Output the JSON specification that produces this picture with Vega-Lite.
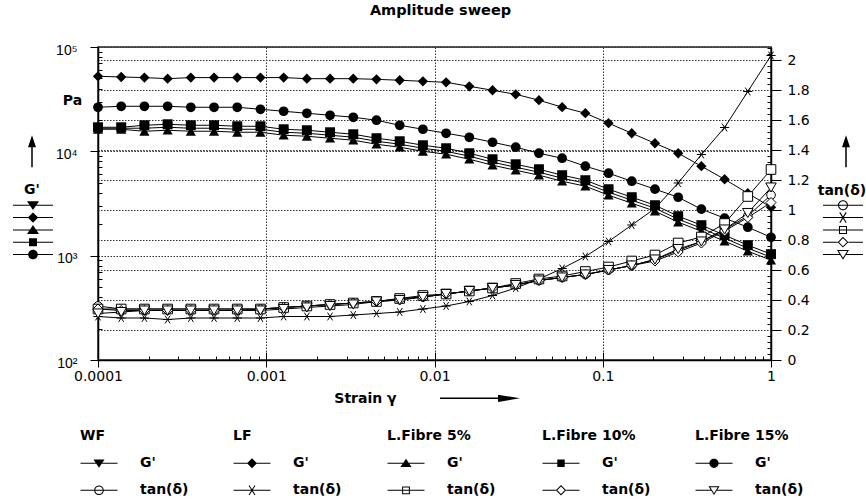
{
"$schema": "https://vega.github.io/schema/vega-lite/v6.json",
"width": 673, "height": 313,
"autosize": {"type": "none"},
"padding": {"left": 98, "top": 47, "right": 95, "bottom": 142},
"background": "white",
"title": {"text": "Amplitude sweep", "font": "DejaVu Sans", "fontSize": 14.5, "fontWeight": "bold", "color": "black", "anchor": "middle", "dx": 6, "offset": 25, "frame": "group"},
"config": {
 "view": {"stroke": "#222", "strokeWidth": 1.5},
 "axis": {"labelColor": "black", "tickColor": "black", "domainColor": "black", "domainWidth": 1.5, "tickWidth": 1, "labelFont": "DejaVu Sans", "labelFontSize": 14, "titleColor": "black", "labelOverlap": false, "labelFlush": false, "gridDash": [1.5, 1.5], "gridColor": "#333", "gridWidth": 1},
 "legend": {"padding": 0, "labelFont": "DejaVu Sans", "labelFontWeight": "bold", "labelFontSize": 14, "labelColor": "black", "titleFont": "DejaVu Sans", "titleFontWeight": "bold", "titleFontSize": 14, "titleColor": "black", "symbolStrokeWidth": 1, "symbolFillColor": "black", "symbolOpacity": 1, "labelLimit": 300, "titleLimit": 300, "direction": "vertical"}
},
"datasets": {"pts": [
{"s":"WF","x":0.0001,"g":16650,"t":0.36},{"s":"WF","x":0.00013738,"g":16650,"t":0.34},{"s":"WF","x":0.00018874,"g":16650,"t":0.34},{"s":"WF","x":0.00025929,"g":17010,"t":0.34},{"s":"WF","x":0.00035622,"g":16650,"t":0.34},{"s":"WF","x":0.00048939,"g":16650,"t":0.34},{"s":"WF","x":0.00067234,"g":16280,"t":0.34},{"s":"WF","x":0.00092367,"g":16280,"t":0.34},{"s":"WF","x":0.001269,"g":15240,"t":0.35},{"s":"WF","x":0.0017434,"g":14910,"t":0.36},{"s":"WF","x":0.0023951,"g":14270,"t":0.37},{"s":"WF","x":0.0032905,"g":13650,"t":0.38},{"s":"WF","x":0.0045205,"g":12500,"t":0.39},{"s":"WF","x":0.0062105,"g":11700,"t":0.41},{"s":"WF","x":0.0085321,"g":10710,"t":0.42},{"s":"WF","x":0.011721,"g":10020,"t":0.44},{"s":"WF","x":0.016103,"g":8980,"t":0.46},{"s":"WF","x":0.022122,"g":7865,"t":0.48},{"s":"WF","x":0.030392,"g":7040,"t":0.50},{"s":"WF","x":0.041753,"g":6310,"t":0.53},{"s":"WF","x":0.057362,"g":5525,"t":0.55},{"s":"WF","x":0.078805,"g":4950,"t":0.57},{"s":"WF","x":0.10826,"g":4058,"t":0.60},{"s":"WF","x":0.14874,"g":3401,"t":0.63},{"s":"WF","x":0.20434,"g":2851,"t":0.67},{"s":"WF","x":0.28072,"g":2237,"t":0.73},{"s":"WF","x":0.38566,"g":1834,"t":0.79},{"s":"WF","x":0.52983,"g":1471,"t":0.87},{"s":"WF","x":0.7279,"g":1180,"t":0.96},{"s":"WF","x":1,"g":967,"t":1.10},
{"s":"LF","x":0.0001,"g":52400,"t":0.29},{"s":"LF","x":0.00013738,"g":51600,"t":0.28},{"s":"LF","x":0.00018874,"g":50900,"t":0.28},{"s":"LF","x":0.00025929,"g":49700,"t":0.27},{"s":"LF","x":0.00035622,"g":50900,"t":0.28},{"s":"LF","x":0.00048939,"g":50900,"t":0.28},{"s":"LF","x":0.00067234,"g":50900,"t":0.28},{"s":"LF","x":0.00092367,"g":50900,"t":0.28},{"s":"LF","x":0.001269,"g":50900,"t":0.29},{"s":"LF","x":0.0017434,"g":49700,"t":0.29},{"s":"LF","x":0.0023951,"g":49700,"t":0.29},{"s":"LF","x":0.0032905,"g":49700,"t":0.30},{"s":"LF","x":0.0045205,"g":49000,"t":0.31},{"s":"LF","x":0.0062105,"g":48000,"t":0.32},{"s":"LF","x":0.0085321,"g":46900,"t":0.34},{"s":"LF","x":0.011721,"g":45900,"t":0.36},{"s":"LF","x":0.016103,"g":42000,"t":0.39},{"s":"LF","x":0.022122,"g":38500,"t":0.43},{"s":"LF","x":0.030392,"g":35200,"t":0.48},{"s":"LF","x":0.041753,"g":30900,"t":0.54},{"s":"LF","x":0.057362,"g":26500,"t":0.61},{"s":"LF","x":0.078805,"g":23200,"t":0.69},{"s":"LF","x":0.10826,"g":18600,"t":0.79},{"s":"LF","x":0.14874,"g":14900,"t":0.90},{"s":"LF","x":0.20434,"g":11950,"t":1.01},{"s":"LF","x":0.28072,"g":9590,"t":1.18},{"s":"LF","x":0.38566,"g":7200,"t":1.37},{"s":"LF","x":0.52983,"g":5400,"t":1.55},{"s":"LF","x":0.7279,"g":3970,"t":1.79},{"s":"LF","x":1,"g":2910,"t":2.03},
{"s":"L.Fibre 5%","x":0.0001,"g":16280,"t":0.34},{"s":"L.Fibre 5%","x":0.00013738,"g":16280,"t":0.34},{"s":"L.Fibre 5%","x":0.00018874,"g":15580,"t":0.34},{"s":"L.Fibre 5%","x":0.00025929,"g":15930,"t":0.34},{"s":"L.Fibre 5%","x":0.00035622,"g":15580,"t":0.34},{"s":"L.Fibre 5%","x":0.00048939,"g":15580,"t":0.34},{"s":"L.Fibre 5%","x":0.00067234,"g":15240,"t":0.34},{"s":"L.Fibre 5%","x":0.00092367,"g":15240,"t":0.34},{"s":"L.Fibre 5%","x":0.001269,"g":14270,"t":0.35},{"s":"L.Fibre 5%","x":0.0017434,"g":13950,"t":0.36},{"s":"L.Fibre 5%","x":0.0023951,"g":13360,"t":0.37},{"s":"L.Fibre 5%","x":0.0032905,"g":12780,"t":0.38},{"s":"L.Fibre 5%","x":0.0045205,"g":11700,"t":0.39},{"s":"L.Fibre 5%","x":0.0062105,"g":10950,"t":0.41},{"s":"L.Fibre 5%","x":0.0085321,"g":10020,"t":0.43},{"s":"L.Fibre 5%","x":0.011721,"g":9380,"t":0.44},{"s":"L.Fibre 5%","x":0.016103,"g":8400,"t":0.46},{"s":"L.Fibre 5%","x":0.022122,"g":7360,"t":0.48},{"s":"L.Fibre 5%","x":0.030392,"g":6590,"t":0.51},{"s":"L.Fibre 5%","x":0.041753,"g":5905,"t":0.54},{"s":"L.Fibre 5%","x":0.057362,"g":5170,"t":0.56},{"s":"L.Fibre 5%","x":0.078805,"g":4632,"t":0.59},{"s":"L.Fibre 5%","x":0.10826,"g":3798,"t":0.62},{"s":"L.Fibre 5%","x":0.14874,"g":3183,"t":0.66},{"s":"L.Fibre 5%","x":0.20434,"g":2669,"t":0.70},{"s":"L.Fibre 5%","x":0.28072,"g":2094,"t":0.78},{"s":"L.Fibre 5%","x":0.38566,"g":1716,"t":0.82},{"s":"L.Fibre 5%","x":0.52983,"g":1377,"t":0.91},{"s":"L.Fibre 5%","x":0.7279,"g":1104,"t":1.09},{"s":"L.Fibre 5%","x":1,"g":906,"t":1.27},
{"s":"L.Fibre 10%","x":0.0001,"g":17010,"t":0.34},{"s":"L.Fibre 10%","x":0.00013738,"g":17010,"t":0.33},{"s":"L.Fibre 10%","x":0.00018874,"g":17780,"t":0.33},{"s":"L.Fibre 10%","x":0.00025929,"g":18180,"t":0.33},{"s":"L.Fibre 10%","x":0.00035622,"g":17780,"t":0.33},{"s":"L.Fibre 10%","x":0.00048939,"g":17780,"t":0.33},{"s":"L.Fibre 10%","x":0.00067234,"g":17390,"t":0.33},{"s":"L.Fibre 10%","x":0.00092367,"g":17390,"t":0.34},{"s":"L.Fibre 10%","x":0.001269,"g":16280,"t":0.35},{"s":"L.Fibre 10%","x":0.0017434,"g":15930,"t":0.36},{"s":"L.Fibre 10%","x":0.0023951,"g":15240,"t":0.37},{"s":"L.Fibre 10%","x":0.0032905,"g":14580,"t":0.38},{"s":"L.Fibre 10%","x":0.0045205,"g":13360,"t":0.39},{"s":"L.Fibre 10%","x":0.0062105,"g":12500,"t":0.40},{"s":"L.Fibre 10%","x":0.0085321,"g":11440,"t":0.42},{"s":"L.Fibre 10%","x":0.011721,"g":10710,"t":0.44},{"s":"L.Fibre 10%","x":0.016103,"g":9590,"t":0.46},{"s":"L.Fibre 10%","x":0.022122,"g":8400,"t":0.48},{"s":"L.Fibre 10%","x":0.030392,"g":7520,"t":0.50},{"s":"L.Fibre 10%","x":0.041753,"g":6740,"t":0.53},{"s":"L.Fibre 10%","x":0.057362,"g":5905,"t":0.55},{"s":"L.Fibre 10%","x":0.078805,"g":5288,"t":0.57},{"s":"L.Fibre 10%","x":0.10826,"g":4335,"t":0.60},{"s":"L.Fibre 10%","x":0.14874,"g":3634,"t":0.63},{"s":"L.Fibre 10%","x":0.20434,"g":3046,"t":0.66},{"s":"L.Fibre 10%","x":0.28072,"g":2390,"t":0.72},{"s":"L.Fibre 10%","x":0.38566,"g":1960,"t":0.78},{"s":"L.Fibre 10%","x":0.52983,"g":1572,"t":0.86},{"s":"L.Fibre 10%","x":0.7279,"g":1261,"t":0.95},{"s":"L.Fibre 10%","x":1,"g":1034,"t":1.05},
{"s":"L.Fibre 15%","x":0.0001,"g":26450,"t":0.31},{"s":"L.Fibre 15%","x":0.00013738,"g":27040,"t":0.32},{"s":"L.Fibre 15%","x":0.00018874,"g":27040,"t":0.33},{"s":"L.Fibre 15%","x":0.00025929,"g":27040,"t":0.33},{"s":"L.Fibre 15%","x":0.00035622,"g":26450,"t":0.33},{"s":"L.Fibre 15%","x":0.00048939,"g":26450,"t":0.33},{"s":"L.Fibre 15%","x":0.00067234,"g":26450,"t":0.33},{"s":"L.Fibre 15%","x":0.00092367,"g":25310,"t":0.33},{"s":"L.Fibre 15%","x":0.001269,"g":24220,"t":0.34},{"s":"L.Fibre 15%","x":0.0017434,"g":23170,"t":0.35},{"s":"L.Fibre 15%","x":0.0023951,"g":22170,"t":0.36},{"s":"L.Fibre 15%","x":0.0032905,"g":21210,"t":0.37},{"s":"L.Fibre 15%","x":0.0045205,"g":19860,"t":0.39},{"s":"L.Fibre 15%","x":0.0062105,"g":17780,"t":0.40},{"s":"L.Fibre 15%","x":0.0085321,"g":16280,"t":0.42},{"s":"L.Fibre 15%","x":0.011721,"g":14900,"t":0.44},{"s":"L.Fibre 15%","x":0.016103,"g":13640,"t":0.46},{"s":"L.Fibre 15%","x":0.022122,"g":12220,"t":0.48},{"s":"L.Fibre 15%","x":0.030392,"g":10950,"t":0.50},{"s":"L.Fibre 15%","x":0.041753,"g":9590,"t":0.53},{"s":"L.Fibre 15%","x":0.057362,"g":8590,"t":0.55},{"s":"L.Fibre 15%","x":0.078805,"g":7200,"t":0.57},{"s":"L.Fibre 15%","x":0.10826,"g":6170,"t":0.60},{"s":"L.Fibre 15%","x":0.14874,"g":5170,"t":0.63},{"s":"L.Fibre 15%","x":0.20434,"g":4340,"t":0.67},{"s":"L.Fibre 15%","x":0.28072,"g":3630,"t":0.74},{"s":"L.Fibre 15%","x":0.38566,"g":2790,"t":0.79},{"s":"L.Fibre 15%","x":0.52983,"g":2290,"t":0.87},{"s":"L.Fibre 15%","x":0.7279,"g":1875,"t":0.98},{"s":"L.Fibre 15%","x":1,"g":1500,"t":1.15}
]},
"layer": [
 {"data": {"name": "pts"},
  "resolve": {"axis": {"x": "independent", "y": "independent"}},
  "layer": [
   {"mark": {"type": "line", "color": "black", "strokeWidth": 1},
    "encoding": {
     "x": {"field": "x", "type": "quantitative", "scale": {"type": "log", "domain": [0.0001, 1], "nice": false},
       "axis": {"orient": "bottom", "values": [0.0001, 0.001, 0.01, 0.1, 1], "format": "~g", "labelPadding": 2, "tickSize": 7, "grid": true, "title": "Strain γ", "titleX": 267, "titleY": 38, "titleAlign": "center", "titleBaseline": "middle", "titleFont": "DejaVu Sans", "titleFontWeight": "bold", "titleFontSize": 14}},
     "y": {"field": "g", "type": "quantitative", "scale": {"type": "log", "domain": [100, 100000], "nice": false},
       "axis": {"orient": "left", "values": [100, 1000, 10000, 100000], "labelExpr": "datum.value == 100 ? '10²' : datum.value == 1000 ? '10³' : datum.value == 10000 ? '10⁴' : '10⁵'", "labelFont": "Liberation Sans", "labelFontSize": 14, "labelPadding": 13, "labelOffset": 3, "tickSize": 8, "grid": true, "title": "Pa", "titleAngle": 0, "titleX": -26, "titleY": 53, "titleAlign": "center", "titleBaseline": "middle", "titleFont": "DejaVu Sans", "titleFontWeight": "bold", "titleFontSize": 14}},
     "detail": {"field": "s", "type": "nominal"}
    }},
   {"mark": {"type": "point", "filled": true, "color": "black", "opacity": 1},
    "encoding": {
     "x": {"field": "x", "type": "quantitative",
       "axis": {"orient": "bottom", "values": [0.0002,0.0003,0.0004,0.0005,0.0006,0.0007,0.0008,0.0009,0.002,0.003,0.004,0.005,0.006,0.007,0.008,0.009,0.02,0.03,0.04,0.05,0.06,0.07,0.08,0.09,0.2,0.3,0.4,0.5,0.6,0.7,0.8,0.9], "labels": false, "grid": false, "domain": false, "tickSize": -4, "title": null}},
     "y": {"field": "g", "type": "quantitative",
       "axis": {"orient": "left", "values": [200,300,400,500,600,700,800,900,2000,3000,4000,5000,6000,7000,8000,9000,20000,30000,40000,50000,60000,70000,80000,90000], "labels": false, "grid": false, "domain": false, "tickSize": -4, "title": null}},
     "shape": {"field": "s", "type": "nominal", "scale": {"domain": ["WF", "LF", "L.Fibre 5%", "L.Fibre 10%", "L.Fibre 15%"], "range": ["triangle-down", "diamond", "triangle-up", "square", "circle"]}, "legend": null},
     "size": {"field": "s", "type": "ordinal", "scale": {"domain": ["WF", "LF", "L.Fibre 5%", "L.Fibre 10%", "L.Fibre 15%"], "range": [110, 95, 110, 70, 80]}, "legend": null}
    }}
  ]},
 {"data": {"name": "pts"},
  "resolve": {"axis": {"x": "independent", "y": "independent"}},
  "layer": [
   {"mark": {"type": "line", "color": "black", "strokeWidth": 1},
    "encoding": {
     "x": {"field": "x", "type": "quantitative",
       "axis": {"orient": "bottom", "values": [0.0001, 0.001, 0.01, 0.1, 1], "labels": false, "grid": false, "domain": false, "tickSize": -8, "title": null}},
     "y": {"field": "t", "type": "quantitative", "scale": {"domain": [0, 2.0867], "nice": false, "zero": false},
       "axis": {"orient": "right", "values": [0, 0.2, 0.4, 0.6, 0.8, 1, 1.2, 1.4, 1.6, 1.8, 2], "format": "~g", "tickSize": 10, "labelPadding": 6, "grid": true, "title": null}},
     "detail": {"field": "s", "type": "nominal"}
    }},
   {"mark": {"type": "point", "filled": true, "fill": "white", "stroke": "black", "strokeWidth": 1, "opacity": 1},
    "encoding": {
     "x": {"field": "x", "type": "quantitative", "axis": null},
     "y": {"field": "t", "type": "quantitative",
       "axis": {"orient": "right", "values": [0.04,0.08,0.12,0.16,0.24,0.28,0.32,0.36,0.44,0.48,0.52,0.56,0.64,0.68,0.72,0.76,0.84,0.88,0.92,0.96,1.04,1.08,1.12,1.16,1.24,1.28,1.32,1.36,1.44,1.48,1.52,1.56,1.64,1.68,1.72,1.76,1.84,1.88,1.92,1.96,2.04,2.08], "labels": false, "grid": false, "domain": false, "tickSize": -4, "title": null}},
     "shape": {"field": "s", "type": "nominal", "scale": {"domain": ["WF", "LF", "L.Fibre 5%", "L.Fibre 10%", "L.Fibre 15%"], "range": ["circle", "M-1,0H1M-0.55,-0.85L0.55,0.85M-0.55,0.85L0.55,-0.85", "square", "diamond", "triangle-down"]}, "legend": null},
     "size": {"field": "s", "type": "ordinal", "scale": {"domain": ["WF", "LF", "L.Fibre 5%", "L.Fibre 10%", "L.Fibre 15%"], "range": [75, 110, 70, 95, 110]}, "legend": null}
    }}
  ]},
 {"data": {"values": [{"k": "a"}]}, "transform": [{"filter": "false"}],
  "mark": {"type": "point", "filled": true, "color": "black", "opacity": 1},
  "encoding": {"shape": {"field": "k", "type": "nominal", "scale": {"domain": ["a"], "range": ["M-1,0M1,0M-0.047,-0.3H0.047V1H-0.047ZM-0.25,-0.25L0,-1L0.25,-0.25Z"]},
   "legend": {"title": "G'", "titleOrient": "bottom", "titleAnchor": "middle", "titlePadding": 16, "orient": "none", "legendX": -82, "legendY": 88.3, "symbolSize": 1024, "symbolStrokeWidth": 0, "labelExpr": "''", "labelFontSize": 1, "labelOffset": 0}}}},
 {"data": {"values": [{"k": "a"}]}, "transform": [{"filter": "false"}],
  "mark": {"type": "point", "filled": true, "color": "black", "opacity": 1},
  "encoding": {"shape": {"field": "k", "type": "nominal", "scale": {"domain": ["a"], "range": ["M-1,0M1,0M-0.047,-0.3H0.047V1H-0.047ZM-0.25,-0.25L0,-1L0.25,-0.25Z"]},
   "legend": {"title": "tan(δ)", "titleOrient": "bottom", "titleAnchor": "middle", "titlePadding": 17, "orient": "none", "legendX": 720, "legendY": 88.3, "symbolSize": 1024, "symbolOffset": 9, "symbolStrokeWidth": 0, "labelExpr": "''", "labelFontSize": 1, "labelOffset": 0}}}},
 {"data": {"values": [{"k": "a"}]}, "transform": [{"filter": "false"}],
  "mark": {"type": "point", "filled": true, "color": "black", "opacity": 1},
  "encoding": {"shape": {"field": "k", "type": "nominal", "scale": {"domain": ["a"], "range": ["M0,-1M0,1M-1,-0.019H0.45V0.019H-1ZM0.45,-0.09L1,0L0.45,0.09Z"]},
   "legend": {"title": null, "orient": "none", "legendX": 341.5, "legendY": 310.8, "symbolSize": 6400, "labelExpr": "''", "labelFontSize": 1, "labelOffset": 0}}}},
 {"data": {"values": [{"k": "WF"}]}, "transform": [{"filter": "false"}],
  "mark": {"type": "point", "filled": true, "color": "black", "opacity": 1},
  "encoding": {"shape": {"field": "k", "type": "nominal", "scale": {"domain": ["WF", "LF", "L.Fibre 5%", "L.Fibre 10%", "L.Fibre 15%"], "range": [
    "M0,-1.5M0,1.5M-5,-0.125H5V0.125H-5ZM-1.5,-1L1.5,-1L0,1.2Z",
    "M0,-1.5M0,1.5M-5,-0.125H5V0.125H-5ZM-1.3,0L0,-1.3L1.3,0L0,1.3Z",
    "M0,-1.5M0,1.5M-5,-0.125H5V0.125H-5ZM-1.5,1L0,-1.2L1.5,1Z",
    "M0,-1.5M0,1.5M-5,-0.125H5V0.125H-5ZM-1,-1H1V1H-1Z",
    "M0,-1.5M0,1.5M-5,-0.125H5V0.125H-5ZM-1.2,0A1.2,1.2,0,1,1,1.2,0A1.2,1.2,0,1,1,-1.2,0Z"]},
   "legend": {"title": null, "orient": "none", "legendX": -69, "legendY": 154.3, "symbolSize": 64, "symbolStrokeWidth": 0, "labelExpr": "''", "labelFontSize": 1, "labelOffset": 0, "rowPadding": 0.3}}}},
 {"data": {"values": [{"k": "WF"}]}, "transform": [{"filter": "false"}],
  "mark": {"type": "point", "filled": true, "color": "black", "opacity": 1},
  "encoding": {"shape": {"field": "k", "type": "nominal", "scale": {"domain": ["WF", "LF", "L.Fibre 5%", "L.Fibre 10%", "L.Fibre 15%"], "range": [
    "M0,-1.5M0,1.5M-5,-0.125H5V0.125H-5ZM-1.25,0A1.25,1.25,0,1,1,1.25,0A1.25,1.25,0,1,1,-1.25,0ZM-1,0A1,1,0,1,0,1,0A1,1,0,1,0,-1,0Z",
    "M0,-1.5M0,1.5M-5,-0.125H5V0.125H-5ZM-0.915,-1.23L-0.685,-1.37L0.915,1.23L0.685,1.37ZM-0.685,1.37L-0.915,1.23L0.685,-1.37L0.915,-1.23Z",
    "M0,-1.5M0,1.5M-5,-0.125H5V0.125H-5ZM-1,-1H1V1H-1ZM-0.75,-0.75V0.75H0.75V-0.75Z",
    "M0,-1.5M0,1.5M-5,-0.125H-1.35V0.125H-5ZM1.35,-0.125H5V0.125H1.35ZM-1.35,0L0,-1.35L1.35,0L0,1.35ZM-1,0L0,1L1,0L0,-1Z",
    "M0,-1.5M0,1.5M-5,-0.125H-0.8V0.125H-5ZM0.8,-0.125H5V0.125H0.8ZM-1.5,-1.1L1.5,-1.1L0,1.3ZM-1.048,-0.85L0,0.828L1.048,-0.85Z"]},
   "legend": {"title": null, "orient": "none", "legendX": 741, "legendY": 154.3, "symbolSize": 64, "symbolStrokeWidth": 0, "labelExpr": "''", "labelFontSize": 1, "labelOffset": 0, "rowPadding": 0.3}}}},
 {"data": {"values": [{"k": "G'"}]}, "transform": [{"filter": "false"}],
  "mark": {"type": "point", "filled": true, "color": "black", "opacity": 1},
  "encoding": {"shape": {"field": "k", "type": "nominal", "scale": {"domain": ["G'", "tan(δ)"], "range": [
    "M0,-0.3M0,0.3M-1,-0.027H1V0.027H-1ZM-0.3,-0.2L0.3,-0.2L0,0.24Z",
    "M0,-0.3M0,0.3M-1,-0.027H1V0.027H-1ZM-0.26,0A0.26,0.26,0,1,1,0.26,0A0.26,0.26,0,1,1,-0.26,0ZM-0.205,0A0.205,0.205,0,1,0,0.205,0A0.205,0.205,0,1,0,-0.205,0Z"]},
   "legend": {"title": "WF", "orient": "none", "legendX": -18, "legendY": 382.3, "symbolSize": 1369, "labelOffset": 22, "rowPadding": 0, "titlePadding": 1, "titleAnchor": "start"}}}},
 {"data": {"values": [{"k": "G'"}]}, "transform": [{"filter": "false"}],
  "mark": {"type": "point", "filled": true, "color": "black", "opacity": 1},
  "encoding": {"shape": {"field": "k", "type": "nominal", "scale": {"domain": ["G'", "tan(δ)"], "range": [
    "M0,-0.3M0,0.3M-1,-0.027H1V0.027H-1ZM-0.27,0L0,-0.27L0.27,0L0,0.27Z",
    "M0,-0.3M0,0.3M-1,-0.027H1V0.027H-1ZM-0.183,-0.246L-0.137,-0.274L0.183,0.246L0.137,0.274ZM-0.137,0.274L-0.183,0.246L0.137,-0.274L0.183,-0.246Z"]},
   "legend": {"title": "LF", "orient": "none", "legendX": 135, "legendY": 382.3, "symbolSize": 1369, "labelOffset": 22, "rowPadding": 0, "titlePadding": 1, "titleAnchor": "start"}}}},
 {"data": {"values": [{"k": "G'"}]}, "transform": [{"filter": "false"}],
  "mark": {"type": "point", "filled": true, "color": "black", "opacity": 1},
  "encoding": {"shape": {"field": "k", "type": "nominal", "scale": {"domain": ["G'", "tan(δ)"], "range": [
    "M0,-0.3M0,0.3M-1,-0.027H1V0.027H-1ZM-0.3,0.2L0,-0.24L0.3,0.2Z",
    "M0,-0.3M0,0.3M-1,-0.027H1V0.027H-1ZM-0.21,-0.21H0.21V0.21H-0.21ZM-0.155,-0.155V0.155H0.155V-0.155Z"]},
   "legend": {"title": "L.Fibre 5%", "orient": "none", "legendX": 289, "legendY": 382.3, "symbolSize": 1369, "labelOffset": 22, "rowPadding": 0, "titlePadding": 1, "titleAnchor": "start"}}}},
 {"data": {"values": [{"k": "G'"}]}, "transform": [{"filter": "false"}],
  "mark": {"type": "point", "filled": true, "color": "black", "opacity": 1},
  "encoding": {"shape": {"field": "k", "type": "nominal", "scale": {"domain": ["G'", "tan(δ)"], "range": [
    "M0,-0.3M0,0.3M-1,-0.027H1V0.027H-1ZM-0.2,-0.2H0.2V0.2H-0.2Z",
    "M0,-0.3M0,0.3M-1,-0.027H-0.28V0.027H-1ZM0.28,-0.027H1V0.027H0.28ZM-0.28,0L0,-0.28L0.28,0L0,0.28ZM-0.2,0L0,0.2L0.2,0L0,-0.2Z"]},
   "legend": {"title": "L.Fibre 10%", "orient": "none", "legendX": 444, "legendY": 382.3, "symbolSize": 1369, "labelOffset": 22, "rowPadding": 0, "titlePadding": 1, "titleAnchor": "start"}}}},
 {"data": {"values": [{"k": "G'"}]}, "transform": [{"filter": "false"}],
  "mark": {"type": "point", "filled": true, "color": "black", "opacity": 1},
  "encoding": {"shape": {"field": "k", "type": "nominal", "scale": {"domain": ["G'", "tan(δ)"], "range": [
    "M0,-0.3M0,0.3M-1,-0.027H1V0.027H-1ZM-0.25,0A0.25,0.25,0,1,1,0.25,0A0.25,0.25,0,1,1,-0.25,0Z",
    "M0,-0.3M0,0.3M-1,-0.027H-0.16V0.027H-1ZM0.16,-0.027H1V0.027H0.16ZM-0.3,-0.22L0.3,-0.22L0,0.26ZM-0.2,-0.165L0,0.156L0.2,-0.165Z"]},
   "legend": {"title": "L.Fibre 15%", "orient": "none", "legendX": 597, "legendY": 382.3, "symbolSize": 1369, "labelOffset": 22, "rowPadding": 0, "titlePadding": 1, "titleAnchor": "start"}}}}
],
"resolve": {"scale": {"y": "independent", "shape": "independent", "size": "independent"}, "axis": {"x": "independent", "y": "independent"}, "legend": {"shape": "independent"}}
}
